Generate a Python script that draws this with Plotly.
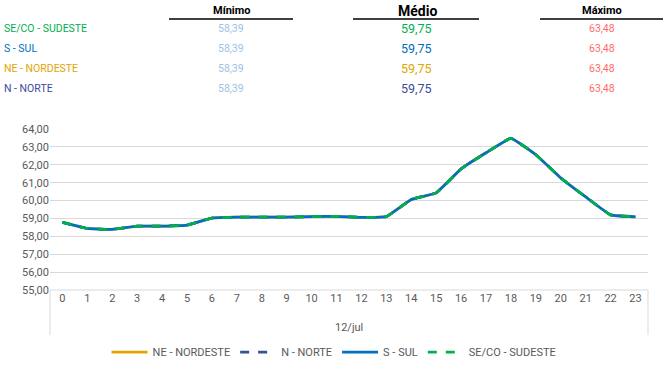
import plotly.graph_objects as go

hours = [str(h) for h in range(24)]
values_se = [58.78, 58.44, 58.39, 58.57, 58.57, 58.63, 59.02, 59.07, 59.07, 59.07, 59.10, 59.12,
             59.06, 59.10, 60.06, 60.43, 61.77, 62.67, 63.48, 62.56, 61.26, 60.20, 59.20, 59.09]
values_s = list(values_se)
values_ne = list(values_se)
values_n = list(values_se)

table_names = ["SE/CO - SUDESTE", "S - SUL", "NE - NORDESTE", "N - NORTE"]
table_min = ["58,39", "58,39", "58,39", "58,39"]
table_mean = ["59,75", "59,75", "59,75", "59,75"]
table_max = ["63,48", "63,48", "63,48", "63,48"]
table_colors = ["#00B050", "#0070C0", "#E3A400", "#3E4A9C"]
date_label = "12/jul"

W, H = 665, 388
L, R, T, B = 50, 17, 129, 98
PW, PH = W - L - R, H - T - B
FONT = "Liberation Sans Narrow, Roboto, Arial"


def px(x):
    return (x - L) / PW


def py(y):
    return (H - B - y) / PH


fig = go.Figure()
series = [
    ("NE - NORDESTE", values_ne, "#E3A400", "solid"),
    ("N - NORTE", values_n, "#2F5597", "dash"),
    ("S - SUL", values_s, "#0070C0", "solid"),
    ("SE/CO - SUDESTE", values_se, "#00B050", "dash"),
]
for name, vals, col, dash in series:
    fig.add_trace(go.Scatter(x=hours, y=vals, name=name, mode="lines",
                             line=dict(color=col, width=2.75, dash=dash, shape="spline", smoothing=0.3)))

ann = []
shapes = []
headers = [("Mínimo", 231, 11), ("Médio", 417, 14), ("Máximo", 602, 11)]
for txt, cx, fs in headers:
    ann.append(dict(text="<b>%s</b>" % txt, x=px(cx), y=py(11), xref="paper", yref="paper",
                    showarrow=False, xanchor="center", yanchor="middle",
                    font=dict(family=FONT, size=fs, color="#000000")))
for x0, x1 in [(169, 293), (353, 479), (540, 663)]:
    shapes.append(dict(type="line", xref="paper", yref="paper", x0=px(x0), x1=px(x1),
                       y0=py(19), y1=py(19), line=dict(color="#000000", width=1.5)))
rows_y = [29, 48, 68, 88]
for i, yy in enumerate(rows_y):
    ann.append(dict(text=table_names[i], x=px(2), y=py(yy), xref="paper", yref="paper",
                    showarrow=False, xanchor="left", yanchor="middle",
                    font=dict(family=FONT, size=10.5, color=table_colors[i])))
    ann.append(dict(text=table_min[i], x=px(231), y=py(yy), xref="paper", yref="paper",
                    showarrow=False, xanchor="center", yanchor="middle",
                    font=dict(family=FONT, size=10.5, color="#9DC3E6")))
    ann.append(dict(text=table_mean[i], x=px(416), y=py(yy), xref="paper", yref="paper",
                    showarrow=False, xanchor="center", yanchor="middle",
                    font=dict(family=FONT, size=12.5, color=table_colors[i])))
    ann.append(dict(text=table_max[i], x=px(602), y=py(yy), xref="paper", yref="paper",
                    showarrow=False, xanchor="center", yanchor="middle",
                    font=dict(family=FONT, size=10.5, color="#FF6B6B")))

ann.append(dict(text=date_label, x=0.5, y=py(327), xref="paper", yref="paper", showarrow=False,
                xanchor="center", yanchor="middle", font=dict(family=FONT, size=11, color="#595959")))
for xx in [0, 1]:
    shapes.append(dict(type="line", xref="paper", yref="paper", x0=xx, x1=xx, y0=0, y1=py(335),
                       line=dict(color="#D9D9D9", width=1)))
shapes.append(dict(type="line", xref="paper", yref="paper", x0=0, x1=1, y0=0, y1=0,
                   line=dict(color="#D9D9D9", width=1)))

fig.update_layout(
    width=W, height=H, margin=dict(l=L, r=R, t=T, b=B, autoexpand=False),
    paper_bgcolor="white", plot_bgcolor="white",
    separators=",.",
    font=dict(family=FONT, size=11, color="#595959"),
    xaxis=dict(type="category", range=[-0.5, 23.5], showgrid=False, zeroline=False, showline=False,
               ticks="", tickfont=dict(size=11, color="#595959")),
    yaxis=dict(range=[55, 64], dtick=1, tickformat=".2f", showgrid=True, gridcolor="#D9D9D9",
               gridwidth=1, zeroline=False, showline=False, ticks="",
               tickfont=dict(size=11, color="#595959")),
    showlegend=True,
    legend=dict(orientation="h", x=0.475, xanchor="center", y=py(352), yanchor="middle",
                font=dict(family=FONT, size=11, color="#595959"), itemwidth=36,
                traceorder="normal", bgcolor="rgba(0,0,0,0)"),
    annotations=ann, shapes=shapes,
)
fig.write_html("out.html", config={"displayModeBar": False},
               post_script="document.body.style.margin='0';")
